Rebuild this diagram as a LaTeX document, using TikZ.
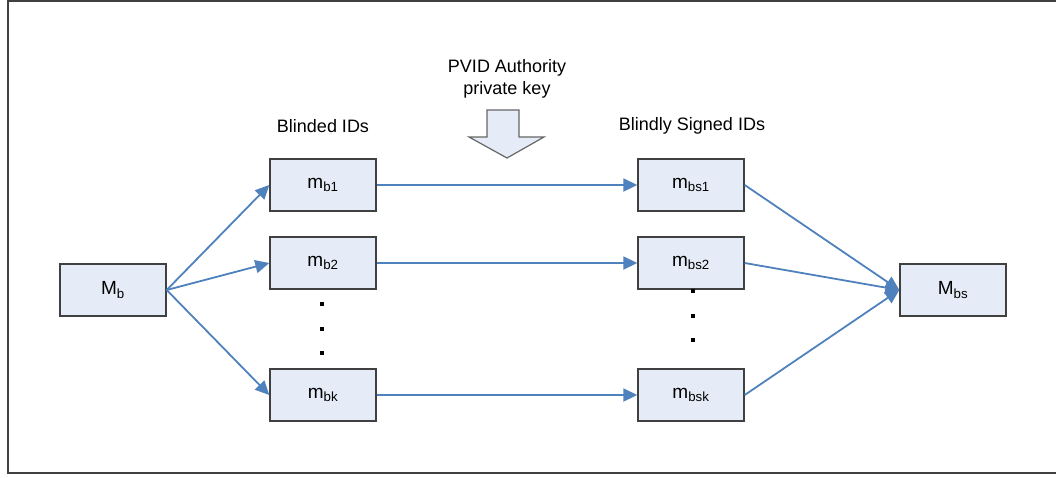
\documentclass[tikz,border=0pt]{standalone}
\usepackage{fontspec}
\setmainfont{Liberation Sans}
\usetikzlibrary{arrows.meta}
\definecolor{boxfill}{RGB}{230,236,247}
\definecolor{boxline}{RGB}{64,64,64}
\definecolor{flow}{RGB}{79,129,189}
\begin{document}
\begin{tikzpicture}[x=1pt,y=-1pt,
  idbox/.style={draw=boxline,line width=1.4pt,fill=boxfill,minimum width=106pt,minimum height=52pt,inner sep=0pt,font=\fontsize{19}{22}\selectfont},
  flowarrow/.style={draw=flow,line width=1.8pt,-{Triangle[length=14pt,width=13pt]}},
  caption/.style={font=\fontsize{18}{22}\selectfont,align=center},
  dot/.style={fill=black,minimum size=4.5pt,inner sep=0pt}]
\useasboundingbox (0,0) rectangle (1056,477);
% outer frame
\draw[boxline,line width=2pt] (1056,1) -- (8,1) -- (8,473) -- (1056,473);
% source and target
\node[idbox] (Mb)  at (113,290) {M\textsubscript{b}};
\node[idbox] (Mbs) at (953,290) {M\textsubscript{bs}};
% blinded IDs
\node[idbox] (b1) at (323,185) {m\textsubscript{b1}};
\node[idbox] (b2) at (323,263) {m\textsubscript{b2}};
\node[idbox] (bk) at (323,395) {m\textsubscript{bk}};
% blindly signed IDs
\node[idbox] (s1) at (691,185) {m\textsubscript{bs1}};
\node[idbox] (s2) at (691,263) {m\textsubscript{bs2}};
\node[idbox] (sk) at (691,395) {m\textsubscript{bsk}};
% ellipsis dots
\node[dot] (ld1) at (322,304) {};
\node[dot] (ld2) at (322,329) {};
\node[dot] (ld3) at (322,353) {};
\node[dot] (rd1) at (693,291) {};
\node[dot] (rd2) at (693,316) {};
\node[dot] (rd3) at (693,340) {};
% captions
\node[caption] (capb) at (323,126) {Blinded IDs};
\node[caption] (caps) at (692,126) {Blindly Signed IDs};
\node[caption] (auth) at (507,79) {PVID Authority\\private key};
% block arrow for the private key
\draw[boxline!80,line width=1.2pt,fill=boxfill]
  (487,110) -- (519,110) -- (519,137) -- (544,137) -- (507,158)
  -- (469,137) -- (487,137) -- cycle;
% connectors
\draw[flowarrow] (Mb.east) -- (b1.west);
\draw[flowarrow] (Mb.east) -- (b2.west);
\draw[flowarrow] (Mb.east) -- (bk.west);
\draw[flowarrow] (b1.east) -- (s1.west);
\draw[flowarrow] (b2.east) -- (s2.west);
\draw[flowarrow] (bk.east) -- (sk.west);
\draw[flowarrow] (s1.east) -- (Mbs.west);
\draw[flowarrow] (s2.east) -- (Mbs.west);
\draw[flowarrow] (sk.east) -- (Mbs.west);
\end{tikzpicture}
\end{document}
